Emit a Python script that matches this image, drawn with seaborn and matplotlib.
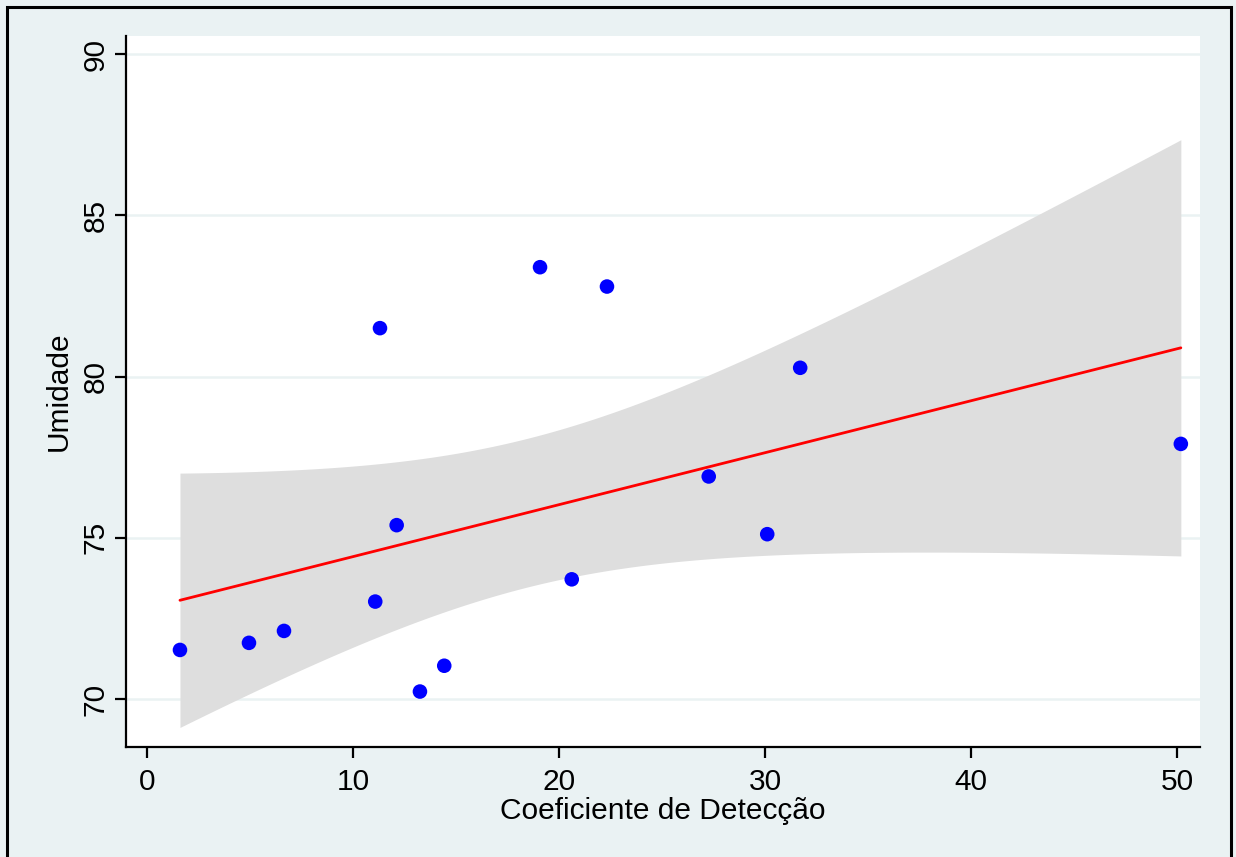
import numpy as np
import pandas as pd
import seaborn as sns
import matplotlib
matplotlib.use("Agg")
import matplotlib.pyplot as plt
from matplotlib.patches import Rectangle

# Data
coef_deteccao = [1.60, 4.95, 6.65, 11.08, 11.31, 12.12, 13.25, 14.43,
                 19.08, 20.62, 22.33, 27.27, 30.11, 31.71, 50.19]
umidade = [71.52, 71.74, 72.11, 73.02, 81.50, 75.39, 70.23, 71.03,
           83.39, 73.71, 82.79, 76.90, 75.11, 80.27, 77.91]
x_ticks = [0, 10, 20, 30, 40, 50]
y_ticks = [70, 75, 80, 85, 90]
x_label = "Coeficiente de Detecção"
y_label = "Umidade"

df = pd.DataFrame({"x": coef_deteccao, "y": umidade})

sns.set_theme(style="white")
plt.rcParams['font.family'] = ['Liberation Sans', 'DejaVu Sans']

BG = "#EAF2F3"
FS = 21.5
fig = plt.figure(figsize=(12.36, 8.57), dpi=100, facecolor=BG)
ax = fig.add_axes([126/1236, 1-747/857, (1200-126)/1236, (747-36)/857])
ax.set_facecolor("white")

# Linear fit with 95% CI of the mean prediction (like Stata lfitci)
x = np.asarray(coef_deteccao); y = np.asarray(umidade)
n = len(x)
b1, b0 = np.polyfit(x, y, 1)
resid = y - (b0 + b1 * x)
s = np.sqrt(np.sum(resid**2) / (n - 2))
xg = np.linspace(x.min(), x.max(), 200)
yg = b0 + b1 * xg
se = s * np.sqrt(1/n + (xg - x.mean())**2 / np.sum((x - x.mean())**2))
tcrit = 2.160368656461013  # t(0.975, 13)
ax.fill_between(xg, yg - tcrit*se, yg + tcrit*se, color="#DEDEDE", lw=0, zorder=2)
fit_df = pd.DataFrame({"x": xg, "y": yg})
sns.lineplot(data=fit_df, x="x", y="y", color="#FF0000", lw=2.0, ax=ax, zorder=3)

sns.scatterplot(data=df, x="x", y="y", color="#0000FF", s=110, edgecolor="none",
                ax=ax, zorder=4)

ax.set_xlim(-1.02, 51.12)
ax.set_ylim(68.51, 90.56)
ax.set_xticks(x_ticks)
ax.set_yticks(y_ticks)
ax.set_xticklabels([str(v) for v in x_ticks])
ax.set_yticklabels([str(v) for v in y_ticks], rotation=90, va="center")

for yv in y_ticks:
    ax.axhline(yv, color=BG, lw=1.8, zorder=1)

for sp in ["top", "right"]:
    ax.spines[sp].set_visible(False)
for sp in ["left", "bottom"]:
    ax.spines[sp].set_color("black")
    ax.spines[sp].set_linewidth(1.6)

ax.tick_params(axis="both", which="major", direction="out", length=8, width=1.6,
               color="black", labelsize=FS, labelcolor="black",
               left=True, bottom=True)
ax.tick_params(axis="x", pad=7)
ax.tick_params(axis="y", pad=4)

ax.set_xlabel(x_label, fontsize=FS, color="black", labelpad=1)
ax.set_ylabel(y_label, fontsize=FS, color="black", labelpad=6)

# Outer border
fig.patches.append(Rectangle((7/1236, -0.05), (1231-7)/1236, 1.05 - 7/857,
                             transform=fig.transFigure, fill=False,
                             edgecolor="black", lw=2.2, zorder=10))

fig.savefig("out.png", dpi=100, facecolor=BG)
